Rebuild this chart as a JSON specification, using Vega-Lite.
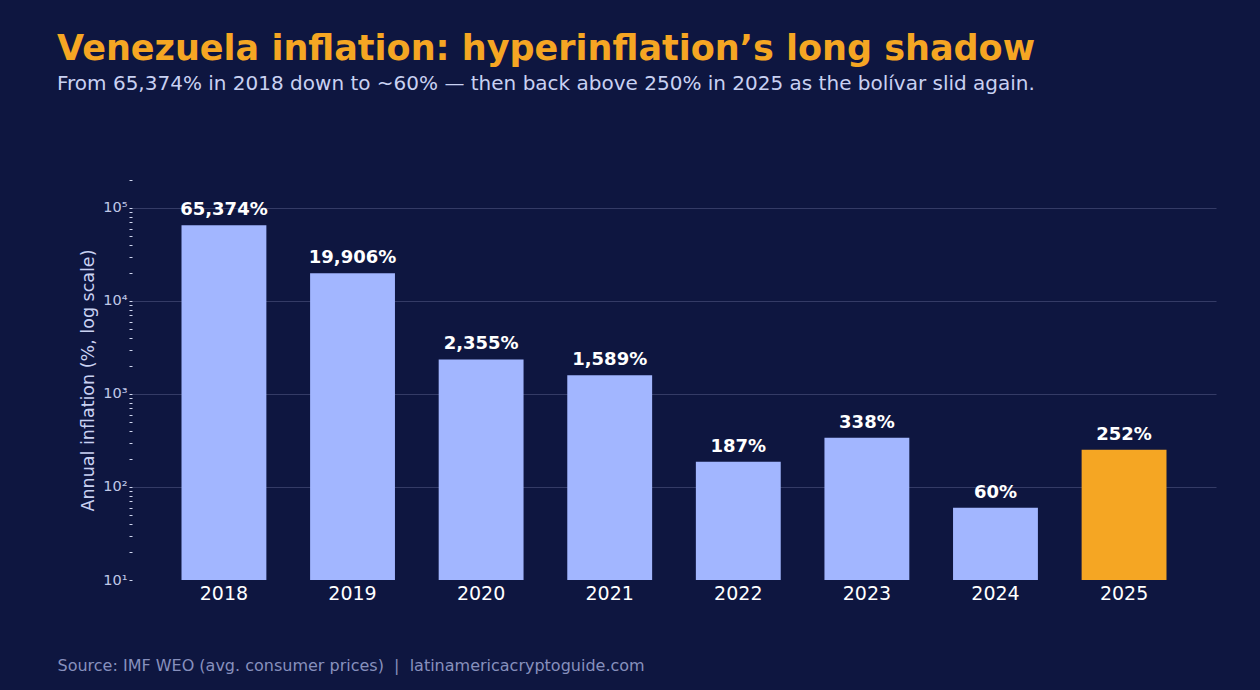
{
  "$schema": "https://vega.github.io/schema/vega-lite/v6.json",
  "width": 1084,
  "height": 400,
  "autosize": {"type": "none"},
  "padding": {"left": 132, "top": 180, "right": 44, "bottom": 110},
  "background": "#0e1640",
  "title": {
    "text": "Venezuela inflation: hyperinflation’s long shadow",
    "subtitle": "From 65,374% in 2018 down to ~60% — then back above 250% in 2025 as the bolívar slid again.",
    "anchor": "start",
    "frame": "group",
    "dx": -75,
    "offset": 86,
    "font": "DejaVu Sans",
    "fontSize": 35,
    "fontWeight": "bold",
    "color": "#f5a623",
    "subtitleFont": "DejaVu Sans",
    "subtitleFontSize": 20,
    "subtitleColor": "#c9d1f2",
    "subtitlePadding": 7
  },
  "data": {
    "values": [
      {"year": "2018", "inflation": 65374},
      {"year": "2019", "inflation": 19906},
      {"year": "2020", "inflation": 2355},
      {"year": "2021", "inflation": 1589},
      {"year": "2022", "inflation": 187},
      {"year": "2023", "inflation": 338},
      {"year": "2024", "inflation": 60},
      {"year": "2025", "inflation": 252}
    ]
  },
  "transform": [
    {"calculate": "format(datum.inflation, ',') + '%'", "as": "label"}
  ],
  "encoding": {
    "x": {
      "field": "year",
      "type": "ordinal",
      "sort": null,
      "scale": {"paddingInner": 0.34, "paddingOuter": 0.385},
      "axis": {
        "labelAngle": 0,
        "labelColor": "#ffffff",
        "labelFont": "DejaVu Sans",
        "labelFontSize": 19,
        "labelPadding": 4,
        "ticks": false,
        "domain": false,
        "grid": false,
        "title": "Source: IMF WEO (avg. consumer prices) \u00a0|\u00a0 latinamericacryptoguide.com",
        "titleFont": "DejaVu Sans",
        "titleFontSize": 16,
        "titleFontWeight": "normal",
        "titleColor": "#8790bd",
        "titleAnchor": "start",
        "titleAlign": "left",
        "titleBaseline": "alphabetic",
        "titleX": -75,
        "titleY": 90
      }
    },
    "y": {
      "field": "inflation",
      "type": "quantitative",
      "scale": {"type": "log", "domain": [10, 200000], "nice": false},
      "axis": {
        "values": [10, 20, 30, 40, 50, 60, 70, 80, 90, 100, 200, 300, 400, 500, 600, 700, 800, 900, 1000, 2000, 3000, 4000, 5000, 6000, 7000, 8000, 9000, 10000, 20000, 30000, 40000, 50000, 60000, 70000, 80000, 90000, 100000, 200000],
        "labelExpr": "datum.value == 10 ? '10¹' : datum.value == 100 ? '10²' : datum.value == 1000 ? '10³' : datum.value == 10000 ? '10⁴' : datum.value == 100000 ? '10⁵' : ''",
        "labelColor": "#c0c8e8",
        "labelFont": "DejaVu Sans",
        "labelFontSize": 14.5,
        "labelPadding": 2,
        "ticks": true,
        "tickSize": 3,
        "tickColor": "#d0d6ef",
        "domain": false,
        "grid": true,
        "gridColor": "#343b66",
        "gridWidth": 1,
        "gridOpacity": {"condition": {"test": "indexof([100, 1000, 10000, 100000], datum.value) >= 0", "value": 1}, "value": 0},
        "title": "Annual inflation (%, log scale)",
        "titleFont": "DejaVu Sans",
        "titleFontSize": 17.5,
        "titleFontWeight": "normal",
        "titleColor": "#c9d1f2",
        "titlePadding": 5
      }
    }
  },
  "layer": [
    {
      "mark": {"type": "bar"},
      "encoding": {
        "y2": {"datum": 10},
        "color": {
          "condition": {"test": "datum.year == '2025'", "value": "#f5a623"},
          "value": "#a2b6ff"
        }
      }
    },
    {
      "mark": {
        "type": "text",
        "baseline": "alphabetic",
        "dy": -10,
        "font": "DejaVu Sans",
        "fontSize": 18,
        "fontWeight": "bold",
        "color": "#ffffff"
      },
      "encoding": {"text": {"field": "label"}}
    }
  ],
  "config": {"view": {"stroke": null}}
}
